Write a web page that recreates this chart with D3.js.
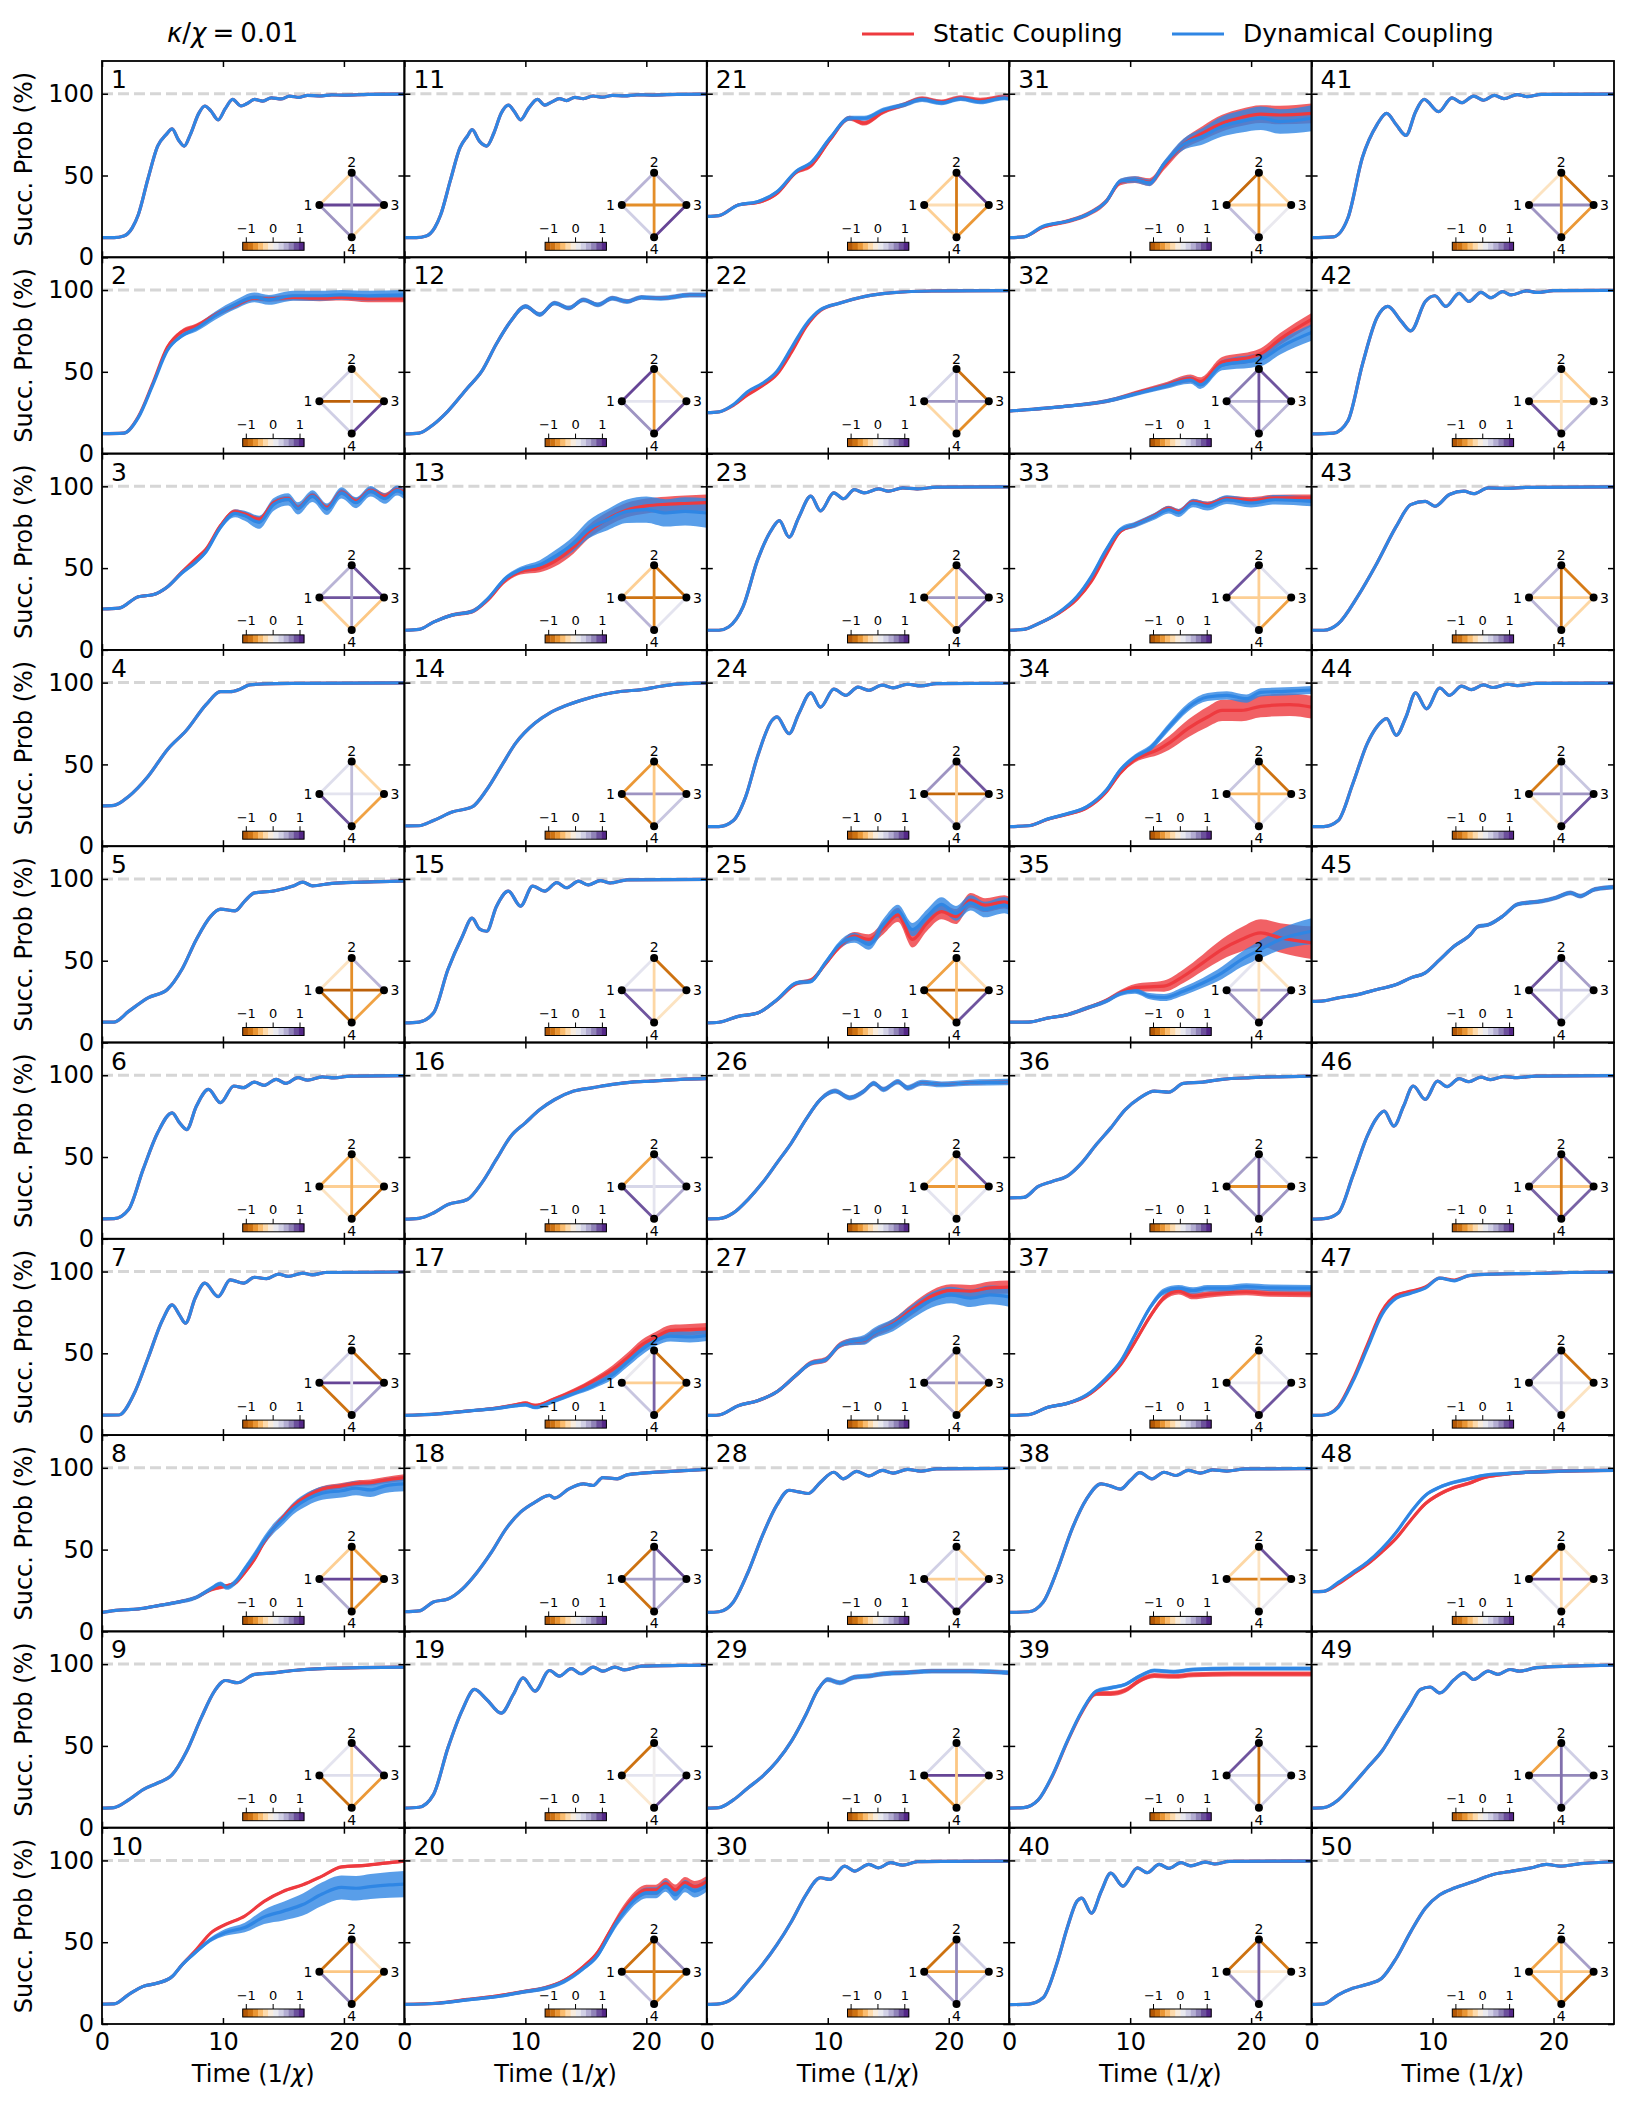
<!DOCTYPE html>
<html>
<head>
<meta charset="utf-8">
<script src="https://cdn.jsdelivr.net/npm/d3@7"></script>
<style>
  body { margin: 0; background: #fff; }
  svg { display: block; }
  text { font-family: "DejaVu Sans", sans-serif; fill: #000; }
</style>
</head>
<body>
<svg id="chart"></svg>
<script>
// panel numbers, laid out column by column (10 rows x 5 columns)
const panelLabels = [1,2,3,4,5,6,7,8,9,10,11,12,13,14,15,16,17,18,19,20,21,22,23,24,25,
  26,27,28,29,30,31,32,33,34,35,36,37,38,39,40,41,42,43,44,45,46,47,48,49,50];
const timeTicks = [0, 10, 20];
const probTicks = [0, 50, 100];
const cbarTicks = [-1, 0, 1];
const seriesNames = ['Static Coupling', 'Dynamical Coupling'];

// mean success probability (%) vs time (1/chi), dynamical coupling
const dynamical = [
  [[0,12],[1,12],[1.8,13],[2.5,18],[3,26],[3.8,48],[4.6,68],[5.3,75],[5.8,78.5],[6.3,72],[6.8,68],[7.3,75],[8,88],[8.5,92.5],[9,89.5],[9.6,84],[10.2,91],[10.8,96.5],[11.5,92.5],[12,94],[12.6,96.5],[13.3,95.5],[14,97.5],[14.8,96.8],[15.5,98.5],[16.3,97.8],[17,99],[18,98.6],[19,99.3],[20,99.1],[22,99.6],[25,99.8]],
  [[0,12.2],[1.8,12.5],[3,22],[4.2,42],[5.4,63],[6.6,72],[7.8,76.5],[9.4,84.5],[11,91],[12.6,95.5],[13.8,94],[15.8,96.5],[18,96.5],[19.8,97],[22,96.5],[25,97]],
  [[0,25],[1.4,25.5],[3,32.5],[4.2,33.7],[5.4,38.5],[6.6,47],[7.8,54],[8.6,60],[9.8,75],[11,83.5],[11.8,82],[13,78],[14.2,89],[15.4,92],[16.2,86.5],[17.4,94],[18.6,86],[19.8,96],[21,90],[22.2,97],[23.4,92.5],[24.4,97.5],[25,95]],
  [[0,24.7],[1,25],[2.2,30.4],[3.8,42.6],[5.4,59],[7,71],[8.6,86.5],[9.8,94.5],[10.6,94.5],[11.4,96],[12.2,98.6],[13.4,99.2],[15.8,99.5],[25,99.8]],
  [[0,12.4],[1,12.5],[2.2,19],[3.8,27.3],[5.4,32.4],[6.6,44.6],[7.8,63],[9,77.3],[9.8,81.5],[11,80.5],[11.8,86.4],[12.6,91.5],[14.2,92.6],[15.8,95.6],[16.6,98],[17.4,95.8],[19,97.3],[21.4,98],[24.6,98.7],[25,98.8]],
  [[0,12.2],[1,12.3],[2.2,17.9],[3.4,42.4],[4.6,64.8],[5.8,77],[6.4,71],[7,66.8],[7.8,81],[8.8,91.3],[9.8,83.2],[10.9,93.4],[11.7,92.4],[12.6,95.8],[13.4,93.8],[14.4,97.5],[15.2,95],[16.2,98.5],[17,97],[18.2,99],[19.2,98.4],[20.5,99.4],[25,99.7]],
  [[0,12.2],[1.4,12.3],[2.6,24.5],[3.8,47],[5,70.4],[5.8,79.6],[6.4,73.5],[6.9,68.4],[7.7,83.7],[8.5,92.9],[9.6,84.7],[10.6,94.9],[11.7,92.9],[12.6,96.5],[13.6,95.6],[14.6,98.4],[15.4,97],[16.6,99],[17.4,98],[18.5,99.4],[25,99.7]],
  [[0,11.6],[1.4,13],[3,13.7],[4.6,15.7],[6.2,17.8],[7.8,20.8],[9,26],[9.8,29],[10.3,27],[11,30],[11.8,38],[12.6,46.3],[13.4,55.5],[14.2,63],[15,68.8],[15.8,75],[17,81],[18.2,84.5],[19.8,86],[21,87.5],[22.2,86.5],[23.4,89],[25,90.2]],
  [[0,12],[1,12.3],[2.2,17],[3.4,23.3],[4.6,27.3],[5.8,32.4],[7,46.7],[8.2,67.1],[9.3,83.5],[10.2,90],[11.2,88.6],[12.6,93.7],[14.2,94.7],[15.8,96.1],[18.2,97.3],[21.4,97.8],[25,98.2]],
  [[0,12.2],[1,12.3],[2.2,18],[3.4,23],[4.6,25],[5.8,29],[6.6,36],[7.8,44.3],[9,51.6],[10.2,56],[11.8,59],[13.4,65.5],[15,69],[16.6,73],[18.2,79.5],[19.8,83.5],[21,83],[22.2,84],[23.8,85],[25,85.5]],
  [[0,12],[1,12],[1.8,13],[2.5,18],[3,26],[3.8,47],[4.6,67],[5.2,74],[5.6,78],[6.2,71],[6.8,68],[7.4,76],[8,88],[8.6,93],[9.1,89],[9.6,84],[10.3,91.5],[11,96.5],[11.6,93],[12.2,95],[12.8,97],[13.4,95.8],[14.1,97.8],[14.8,97],[15.6,98.6],[16.4,97.9],[17.2,99],[18.2,98.7],[19.2,99.3],[20.5,99.2],[22.5,99.6],[25,99.8]],
  [[0,12],[1.2,12.5],[2.4,17.8],[3.6,26],[5.2,40],[6.4,50.4],[7.6,67],[8.8,81],[10,90],[11.2,85],[12.4,92],[13.6,89],[14.8,94],[16,91],[17.2,95],[18.4,93],[19.6,95.5],[21.2,95],[23.6,97],[25,97]],
  [[0,12],[1.2,12.5],[2.4,17],[4,21.4],[5.6,23.5],[6.8,30.6],[8.4,44],[9.6,49],[11.2,52],[12.4,57],[14,65],[15.2,73.5],[16.8,79.6],[18.4,84.7],[20,85.7],[21.6,83.7],[23.2,84.7],[25,83.7]],
  [[0,12.4],[1.2,12.5],[2.4,15.7],[4,21],[5.6,24],[6.8,34.5],[8,48.8],[9.2,63],[10.8,75.3],[12,81.4],[13.2,85.5],[14.8,89.6],[16.4,92.7],[18,94.7],[19.6,95.7],[21.2,97.8],[22.8,99.2],[25,99.8]],
  [[0,12],[1.2,12.5],[2.4,18],[3.6,44.6],[4.8,65],[5.6,76],[6.2,69.5],[6.8,68],[7.6,83],[8.6,92.5],[9.6,83.4],[10.6,95.6],[11.6,92.5],[12.6,97.7],[13.4,94.6],[14.4,98.6],[15.2,96.3],[16.2,99],[17,97.5],[18.4,99.4],[25,99.7]],
  [[0,12],[1.2,12.5],[2.4,15.8],[3.6,21],[5.2,24],[6.4,34.2],[7.6,48.5],[8.8,62.7],[10,70.9],[11.2,79],[12.4,85],[14,90.3],[15.6,92.4],[17.2,94.4],[18.8,95.8],[20.4,96.4],[22.8,97.5],[25,97.9]],
  [[0,12],[2.8,13],[5.2,14.7],[7.6,16.3],[9.2,18],[10,18.6],[10.8,17],[12.4,21],[14,25.5],[15.6,30.2],[17.2,36.7],[18.4,44.5],[19.6,52],[20.8,57.8],[22,60.5],[23.6,60],[25,61]],
  [[0,12],[1.2,12.5],[2.4,18],[3.6,19.8],[4.8,26],[6,36],[7.2,48.4],[8.4,62.7],[9.6,72.9],[10.8,79],[12,83.1],[12.4,81.5],[13.6,87.1],[14.8,90.2],[15.6,89.2],[16.4,94],[17.6,93.3],[18.4,95.7],[19.6,96.7],[22,97.8],[25,99]],
  [[0,12],[1.2,12.5],[2.4,20.2],[3.6,48.8],[4.8,72.2],[5.8,84.5],[6.8,78.4],[8,70],[9,81.4],[9.8,91.6],[10.8,83.5],[12,96.1],[12.8,92.7],[13.8,97.3],[14.6,94.1],[15.6,98.2],[16.4,95.7],[17.4,98.2],[18.2,96.5],[19.6,98.8],[22.8,99.2],[25,99.4]],
  [[0,12],[2.8,12.7],[5.2,14.7],[7.6,16.7],[10,19.8],[11.6,21.8],[13.2,26],[14.8,34],[16,42.2],[16.8,52.4],[17.6,62.7],[18.4,70.8],[19.2,77],[20,80.2],[20.8,80.2],[21.6,84.3],[22.4,79],[23.2,84.3],[24,81.2],[25,85]],
  [[0,25],[1,25.5],[2.6,32],[4.2,34],[5.8,40],[7.4,52.6],[8.6,57.7],[10.2,73],[11.8,85],[13,85],[14.6,90],[16.2,93],[17.8,96.5],[19.4,94.5],[21,97],[22.6,95],[24.6,97.5],[25,97]],
  [[0,25],[1,25.5],[2.2,30],[3.4,38],[4.6,43],[5.8,50.4],[7,64.7],[8.2,79],[9.4,88],[11,92],[13,96],[15.4,98.4],[18.6,99.4],[25,99.6]],
  [[0,12],[1,12],[1.8,14],[3,26.5],[4.2,55],[5.4,74],[6,79],[6.8,69],[7.6,81],[8.6,94],[9.4,85],[10.5,96],[11.3,92.4],[12.2,98],[13,96],[14.2,98.4],[15,97],[16.2,99],[17.4,98.4],[19,99.5],[25,99.7]],
  [[0,12],[1,12],[2.2,15.7],[3.2,30],[4.2,55],[5.4,77],[5.8,79],[6.8,68.8],[7.6,81],[8.6,93.7],[9.4,85],[10.5,96],[11.5,92.2],[12.5,97.3],[13.4,95.3],[14.5,98.5],[15.4,96.8],[16.6,99],[17.7,98],[19,99.4],[25,99.6]],
  [[0,12],[1,12.4],[2.6,16],[4.2,18],[5.8,26.2],[7.4,36.4],[8.6,37.4],[9.8,48.7],[11,60],[12.2,64],[13.4,60],[14.6,72],[15.8,80.3],[17,69],[18.2,77],[19.4,84.4],[20.6,79],[21.8,85.4],[23,81.3],[24.6,84],[25,83]],
  [[0,12.2],[1,12.3],[2.2,15.8],[3.4,24],[4.6,34.2],[5.8,46.4],[7,58.7],[8.2,73],[9.4,85.2],[10.6,90.3],[11.8,86.2],[13,90.3],[13.8,95],[14.6,91.3],[15.8,96],[16.6,92.3],[17.8,95.4],[19.4,94.4],[21.8,95.4],[24.6,95.8],[25,96]],
  [[0,12],[1,12.3],[2.6,18],[4.2,21],[5.8,26.5],[7.4,36.7],[8.6,43.9],[9.8,45.9],[11,55],[11.8,57],[13,58.2],[13.8,62.2],[15.4,67.3],[17,75.5],[18.6,82.7],[20.2,85.7],[21.8,83.7],[23.4,85.7],[25,84.5]],
  [[0,11.6],[1,12],[2.2,18],[3.4,36],[4.6,58.6],[5.8,77.3],[6.8,86.3],[7.6,85.3],[8.4,84.3],[9.4,91.2],[10.5,97.3],[11.3,93.3],[12.4,97.8],[13.4,95],[14.5,98.4],[15.4,96.7],[16.6,99],[17.7,98],[19,99.4],[25,99.6]],
  [[0,12],[1,12.3],[2.2,17],[3.4,24.3],[4.6,31.4],[5.8,40.6],[7,52.9],[8.2,69.2],[9.2,84.5],[10,90.6],[11,88.6],[12.2,92],[13.4,92.7],[14.6,94.1],[16.2,94.7],[18.6,95.7],[21.8,95.7],[25,94.7]],
  [[0,12],[1,12.3],[2.2,16],[3.4,26],[4.6,36.3],[5.8,48.5],[7,62.7],[8.2,79],[9.4,89.4],[10.2,88.4],[11.4,96.5],[12.2,93.5],[13.4,97.6],[14.2,95.5],[15.2,98.6],[16.2,97.1],[17.4,99.2],[20.2,99.4],[25,99.6]],
  [[0,12],[1.2,12.5],[2.8,19],[4.8,22],[6.4,26],[8,34],[9.2,46.5],[10.4,47.5],[11.6,45.5],[12.8,57],[14.4,69],[16,74],[17.6,80],[19.2,83],[20.8,85],[22.4,83],[25,85]],
  [[0,26],[4.8,29],[8,32],[11.2,38],[12.8,41],[15,45],[15.8,42],[17.6,54],[20,56.5],[20.8,57.5],[22.4,65],[25,74]],
  [[0,12],[1.2,12.5],[2.4,16],[4,22.4],[5.6,32.6],[6.8,45],[8,61],[9.2,73.5],[10.4,76.5],[12,81.6],[13.2,85.7],[14,83.7],[15.2,89.8],[16.4,87.8],[18,91.8],[20,89.8],[22,91.8],[25,90.8]],
  [[0,12],[1.6,12.5],[3.2,16.7],[4.8,19.8],[6.4,24],[8,34],[9.2,46.7],[10.4,54.5],[11.6,59.6],[13.2,72.8],[14.8,85],[16.4,91.2],[18,92.2],[19.6,90.2],[20.8,94],[22.8,94.7],[25,95.5]],
  [[0,12.4],[1.6,12.5],[3.2,15],[4.8,17],[6.4,21],[8,25.2],[9.2,30],[10.4,31.5],[11.6,28.3],[12.8,27.5],[14.4,31.3],[16,36.4],[17.6,42.6],[19.2,50.7],[20.8,57],[22.4,63],[25,68]],
  [[0,25],[1.2,25.3],[2.4,32],[3.6,35.2],[4.8,38.3],[6,46.4],[7.2,57.6],[8.4,67.8],[9.6,79],[10.8,86.2],[12,90.3],[13.2,89.7],[14.4,95],[16,95.8],[17.6,97.5],[20,98.5],[25,99.5]],
  [[0,12],[1.6,12.5],[3.2,17],[4.8,19.4],[6.4,24.5],[8,34.7],[9.2,44.9],[10.4,61.2],[11.6,77.5],[12.8,87.8],[14,89.8],[15.2,88.4],[16.4,89.8],[18,89.8],[19.6,90.8],[21.6,90],[25,89.8]],
  [[0,11.6],[1.6,12],[2.8,17.8],[4,38],[5.2,62.7],[6.4,81],[7.6,90.2],[8.4,88.8],[9.2,87],[10,92.2],[10.8,97],[11.8,93.3],[12.8,97.3],[13.8,95.3],[14.8,98.4],[15.8,96.8],[16.8,98.8],[18,98],[19.5,99.3],[25,99.5]],
  [[0,12],[1.2,12.3],[2.4,17],[3.6,32.4],[4.8,52.9],[6,71.2],[7.2,83.5],[8.4,85.5],[9.6,87.6],[10.8,92.7],[12,96.1],[13.6,95.3],[15.2,96.7],[18.4,97.3],[21.6,97.3],[25,97.3]],
  [[0,11.8],[1.6,12.2],[2.8,16],[4,38.4],[4.8,58.8],[5.6,75],[6,77],[6.8,67.8],[7.6,81],[8.4,92.2],[9.4,84.3],[10.6,95.5],[11.4,92.5],[12.4,97.6],[13.2,95.1],[14.2,98.6],[15,96.7],[16.2,99],[17,97.8],[18.2,99.4],[25,99.6]],
  [[0,12],[1.8,12.5],[3,24],[4.2,61],[5.4,81],[6.2,88],[7,81],[7.8,74.5],[8.6,89],[9.3,96.5],[10.5,89],[11.6,97.5],[12.4,94.5],[13.4,98.5],[14.2,96],[15.1,99],[15.9,97],[17,99.5],[17.8,98.2],[19,99.6],[25,99.8]],
  [[0,12],[1.8,12.5],[3,20],[4.2,54.5],[5.4,83],[6.3,90],[7.4,81],[8.2,75],[9.4,93],[10.2,96.5],[11.1,90],[12.2,98],[13,93],[14,98.6],[14.8,95.3],[15.8,99],[16.5,97],[17.8,99.5],[18.6,98.5],[20,99.6],[25,99.8]],
  [[0,12],[1,12],[2.2,16],[3.8,32.6],[5.4,53],[7,75.5],[8.2,88.8],[9.4,90.8],[10.2,87.8],[11.4,95],[12.6,97],[13.4,95.5],[14.6,99],[16,98.8],[18,99.4],[25,99.6]],
  [[0,12],[1,12],[2.2,15.7],[3.4,38],[4.6,62.7],[5.4,73],[6.2,78],[7,67.8],[7.8,79],[8.6,93.7],[9.5,84],[10.6,96.7],[11.4,92.2],[12.4,97.8],[13.2,95.7],[14.2,98.6],[15,97],[16.2,99],[17,98.2],[18.5,99.5],[25,99.7]],
  [[0,25.2],[1,25.5],[2.2,27.3],[3.8,29.3],[5.4,32.4],[7,35.4],[8.2,39.5],[9.4,42.6],[10.6,50.7],[11.8,59],[13,65],[13.8,71],[14.6,72],[15.8,77.2],[17,84.4],[17.8,85.4],[19,86.4],[20.2,88.5],[21.4,91.5],[22.2,89.5],[23.4,93.6],[25,95]],
  [[0,12],[1,12.3],[2.2,15.8],[3.4,38.3],[4.6,62.8],[5.4,74],[6,78],[6.8,68.9],[7.6,81],[8.4,93.4],[9.4,85.2],[10.4,96.4],[11.2,93],[12.2,97.9],[13,96],[14,98.8],[14.8,97.3],[15.9,99.2],[17,98.5],[18.5,99.5],[25,99.7]],
  [[0,12],[1,12.3],[2.2,17],[3.4,32.7],[4.6,53],[5.8,73.5],[7,83.7],[8.2,86.7],[9.4,89.8],[10.6,95.9],[11.8,94.3],[13,97.5],[15,98.4],[18.2,98.8],[21.4,99.4],[25,99.6]],
  [[0,24.3],[1,24.5],[2.2,30],[3.4,36.1],[4.6,42.2],[5.8,50.4],[7,60.6],[8.2,72.9],[9.4,83.1],[10.6,88.2],[11.8,91.2],[13,93.3],[14.2,95.3],[15.8,96.3],[17.8,97.3],[19.8,97.8],[22.2,98.2],[25,98.4]],
  [[0,12],[1,12.3],[2.2,17],[3.4,26.3],[4.6,36.5],[5.8,46.7],[7,61],[8.2,75.3],[9,84.5],[9.8,86],[10.6,82.4],[11.8,90.6],[12.6,94.7],[13.4,90.6],[14.6,95.7],[15.4,93.7],[16.4,96.7],[17.2,95.7],[18.6,97.8],[21.4,98.8],[25,99.4]],
  [[0,12],[1,12.3],[2.2,17.8],[3.4,21.8],[4.6,24.3],[5.8,28],[7,40.2],[8.2,56.5],[9.4,70.8],[10.6,79],[11.8,83.1],[13.4,87.1],[15,91.4],[16.6,93.5],[18.2,95.5],[19.4,97.6],[20.6,96.5],[22.2,98],[25,99.2]]
];

// static coupling means; null where they coincide with the dynamical curve
const staticCoupling = [
  null,
  [[0,12.2],[1.8,12.5],[3,22.5],[4.2,43],[5.4,65],[6.6,74.5],[7.8,78],[9.4,85],[11,90.5],[12.6,95],[13.8,94.5],[15.8,95.5],[18,95],[19.8,95.5],[22,94.5],[25,94.5]],
  [[0,25],[1.4,25.5],[3,32.5],[4.2,33.7],[5.4,38.5],[6.6,47.5],[7.8,56],[8.6,61.5],[9.8,76],[11,84.5],[11.8,83],[13,80],[14.2,90],[15.4,92.5],[16.2,87],[17.4,94.5],[18.6,87],[19.8,96.5],[21,91],[22.2,97.5],[23.4,94],[24.4,98],[25,96.5]],
  null, null, null, null,
  [[0,11.6],[1.4,13],[3,13.7],[4.6,15.7],[6.2,17.8],[7.8,20.8],[9,25.5],[9.8,27],[11,29.5],[11.8,36],[12.6,44],[13.4,54.5],[14.2,63],[15,70],[15.8,76.5],[17,83],[18.2,87],[19.8,89],[21,90.5],[22.2,91],[23.4,92.5],[25,94]],
  null,
  [[0,12.2],[1,12.3],[2.2,18],[3.4,23],[4.6,25],[5.8,29],[6.6,36],[7.8,45.5],[9,55.7],[10.2,60.8],[11.8,66],[13.4,75],[15,81.2],[16.6,85.1],[18.2,90.4],[19.8,96],[21.8,97],[23.4,98.3],[25,99.6]],
  null, null,
  [[0,12],[1.2,12.5],[2.4,17],[4,21.4],[5.6,23.5],[6.8,30],[8.4,43],[9.6,48],[11.2,50],[12.4,54],[14,63],[15.2,72],[16.8,80],[18.4,85.5],[20,88],[21.6,89],[23.2,89.5],[25,90]],
  null, null, null,
  [[0,12],[2.8,13],[5.2,14.7],[7.6,16.5],[9.2,18.5],[10,19.5],[10.8,18],[12.4,22],[14,27],[15.6,33],[17.2,40],[18.4,47],[19.6,55],[20.8,60],[22,64],[23.6,64.5],[25,65]],
  null, null,
  [[0,12],[2.8,12.8],[5.2,15],[7.6,17],[10,20],[11.6,22],[13.2,26.5],[14.8,35],[16,44],[16.8,54],[17.6,64],[18.4,72.5],[19.2,79],[20,82],[20.8,82],[21.6,86],[22.4,82],[23.2,86.5],[24,84],[25,87]],
  [[0,25],[1,25.5],[2.6,32],[4.2,33.5],[5.8,39],[7.4,52],[8.6,56],[10.2,72],[11.8,85],[13,82],[14.6,89],[16.2,93],[17.8,97],[19.4,95],[21,97.5],[22.6,96],[24.6,98],[25,97.5]],
  [[0,25],[1,25.5],[2.2,29.5],[3.4,36],[4.6,41.5],[5.8,48.5],[7,62],[8.2,77.5],[9.4,87.5],[11,92],[13,96],[15.4,98.4],[18.6,99.4],[25,99.6]],
  null, null,
  [[0,12],[1,12.4],[2.6,16],[4.2,18],[5.8,26],[7.4,36],[8.6,38],[9.8,48],[11,59],[12.2,65],[13.4,63],[14.6,70],[15.8,78],[17,63],[18.2,73],[19.4,80],[20.6,77],[21.8,87],[23,84],[24.6,86],[25,85]],
  null,
  [[0,12],[1,12.3],[2.6,18],[4.2,21],[5.8,26.5],[7.4,36.7],[8.6,44],[9.8,46],[11,55],[11.8,57],[13,58],[13.8,62],[15.4,68],[17,77],[18.6,85],[20.2,88.5],[21.8,88],[23.4,90],[25,90.5]],
  null, null, null,
  [[0,12],[1.2,12.5],[2.8,18.5],[4.8,22],[6.4,26],[8,34],[9.2,46],[10.4,47.5],[11.6,46],[12.8,56],[14.4,69],[16,76],[17.6,82],[19.2,85.5],[20.8,87.5],[22.4,87],[25,88]],
  [[0,26],[4.8,29],[8,32],[11.2,38.5],[12.8,41.5],[15,46],[15.8,44],[17.6,56],[20,59],[20.8,61],[22.4,70],[25,82]],
  [[0,12],[1.2,12.5],[2.4,16],[4,22],[5.6,31],[6.8,42],[8,58],[9.2,72.5],[10.4,76.5],[12,82],[13.2,86.5],[14,84.5],[15.2,90.5],[16.4,89],[18,92.5],[20,91.5],[22,93],[25,93]],
  [[0,12],[1.6,12.5],[3.2,16.5],[4.8,19.5],[6.4,23.5],[8,33],[9.2,45],[10.4,53],[11.6,57],[12,58],[13.2,63],[14.8,72],[16.4,79],[17.6,83],[19.2,83],[20.8,85.5],[23.2,86.5],[25,85]],
  [[0,12.4],[1.6,12.5],[3.2,15],[4.8,17],[6.4,21],[8,25.5],[9.2,30.5],[10.4,33.6],[11.6,34],[12.8,34.5],[14.4,40.5],[16,48.7],[17.6,57],[19.2,63],[20.8,67],[22.4,64],[25,61]],
  null,
  [[0,12],[1.6,12.5],[3.2,17],[4.8,19.4],[6.4,24],[8,33.5],[9.2,43],[10.4,57],[11.6,72],[12.8,84],[14,88],[15.2,85],[16.4,86],[18,87],[19.6,87.5],[21.6,86.5],[25,86.3]],
  null,
  [[0,12],[1.2,12.3],[2.4,17],[3.6,32],[4.8,52.5],[6,70.5],[7.2,82],[8.4,82],[9.6,84],[10.8,90],[12,93],[13.6,92.5],[15.2,93.5],[18.4,94],[21.6,94],[25,94]],
  null, null, null, null, null, null, null,
  [[0,12],[1,12.3],[2.2,17.5],[3.4,34],[4.6,55],[5.8,75.5],[7,85.5],[8.2,88],[9.4,90.5],[10.6,96],[11.8,94.8],[13,97.5],[15,98.4],[18.2,98.8],[21.4,99.4],[25,99.6]],
  [[0,24.3],[1,24.5],[2.2,29],[3.4,35],[4.6,41],[5.8,48.5],[7,57],[8.2,68],[9.4,78],[10.6,84],[11.8,88],[13,90.5],[14.2,94],[15.8,96],[17.8,97.3],[19.8,97.8],[22.2,98.2],[25,98.4]],
  null, null
];

// half-width of the shaded spread, [time, percent]; null = thin spread
const thinSpread = [[0, 0.6], [25, 0.8]];
const dynamicalSpread = [
  null, [[0,0.6],[6,1],[9,2.5],[13,3],[25,3]], [[0,0.6],[10,1.5],[13,4],[25,3]], null, null,
  null, null, [[0,0.6],[10,1.5],[14,3],[17,4],[25,4.5]], null, [[0,0.6],[9,1.5],[12,3],[14,5],[17,7],[25,8]],
  null, [[0,0.6],[9,1.5],[25,1.5]], [[0,0.6],[9,1.5],[13,4],[16,6],[20,8],[25,9]], null, null,
  null, [[0,0.6],[15,1.5],[18,3],[25,3.5]], null, null, [[0,0.6],[16,1.5],[18,3],[25,4]],
  [[0,0.6],[10,1.5],[25,1.5]], null, null, null, [[0,0.6],[10,1.5],[12,3],[16,4],[25,5]],
  [[0,0.6],[9,1.5],[25,2]], [[0,0.6],[11,1.5],[13,3],[16,4],[20,5],[25,6]], null, [[0,0.6],[9,1.5],[25,1.5]], null,
  [[0,0.6],[8,1],[10,2],[13,2],[15,4],[17,6],[20,7],[25,8]], [[0,0.6],[12,1.5],[16,2.5],[20,4],[25,5]], [[0,0.6],[9,1.5],[14,2.5],[25,3]], [[0,0.6],[9,1.5],[14,2.5],[25,2.5]], [[0,0.6],[9,1.5],[12,2],[16,3],[20,5],[25,8]],
  null, [[0,0.6],[10,1.5],[13,2],[25,2]], null, [[0,0.6],[7,1.2],[25,1.2]], null,
  null, null, null, null, [[0,0.6],[12,1.2],[25,1.5]],
  null, null, [[0,0.6],[8,1.2],[25,1]], null, null
];
const staticSpread = [
  null, [[0,0.6],[8,1.5],[25,2]], [[0,0.6],[10,1.5],[25,2]], null, null,
  null, null, [[0,0.6],[15,1.5],[25,2]], null, [[0,0.6],[25,1]],
  null, null, [[0,0.6],[10,2],[14,4],[25,5]], null, null,
  null, [[0,0.6],[15,1.5],[18,3],[25,3.5]], null, null, [[0,0.6],[16,1.5],[18,3],[25,3.5]],
  [[0,0.6],[10,1.5],[25,1.5]], null, null, null, [[0,0.6],[10,1.5],[13,3],[17,5],[25,4]],
  null, [[0,0.6],[12,2],[17,3.5],[25,4]], null, null, null,
  [[0,0.6],[10,2],[14,3],[17,5],[25,6]], [[0,0.6],[12,1.5],[17,3],[25,4]], [[0,0.6],[12,1.5],[25,2]], [[0,0.6],[10,1.5],[12,3],[14,5],[17,6.5],[25,7]], [[0,0.6],[9,1.5],[12,3],[16,5],[20,8],[25,10]],
  null, [[0,0.6],[10,1.5],[14,2],[25,2]], null, [[0,0.6],[7,1.5],[25,1.5]], null,
  null, null, null, null, null,
  null, null, [[0,0.6],[8,1.2],[25,1]], null, null
];

// coupling weights per panel: [1-2, 2-3, 3-4, 4-1, 1-3, 2-4]
const edgeWeights = [
  [-0.3,0.6,-0.3,0.6,0.9,0.6], [0.3,-0.3,0.9,0.3,-0.95,0.1], [0.45,0.85,-0.4,-0.35,0.85,0.55],
  [0.2,-0.3,-0.6,0.85,0.15,0.4], [-0.2,0.45,-0.6,-0.85,-0.95,-0.7], [-0.55,-0.2,-0.85,-0.2,-0.35,-0.55],
  [0.3,-0.85,0.55,-0.85,0.9,0.15], [-0.35,-0.6,-0.65,0.5,0.9,-0.85], [0.15,0.85,-0.65,-0.85,0.2,-0.3],
  [-0.85,-0.2,-0.75,0.65,-0.4,0.8], [0.45,0.45,0.9,0.3,-0.7,-0.7], [0.9,-0.3,0.85,0.6,0.15,-0.65],
  [-0.35,-0.85,0.15,0.45,-0.85,-0.75], [-0.65,-0.65,0.35,-0.85,0.6,-0.4], [0.15,-0.85,-0.2,0.85,0.45,-0.3],
  [-0.6,0.6,0.5,0.85,0.25,0.15], [0.1,-0.85,-0.65,0.35,-0.35,0.8], [-0.85,0.85,0.5,-0.85,0.55,0.6],
  [-0.85,0.3,0.85,-0.15,0.15,0.05], [-0.85,0.6,-0.65,0.4,-0.85,-0.75], [-0.35,0.9,-0.65,-0.35,-0.25,-0.8],
  [0.25,-0.85,-0.7,-0.3,0.6,0.4], [-0.5,0.85,0.85,-0.45,0.6,-0.35], [0.6,0.85,0.35,0.4,-0.9,-0.35],
  [-0.6,-0.25,0.85,-0.85,-0.95,-0.45], [-0.3,0.85,0.15,0.15,-0.65,-0.3], [0.55,0.45,-0.8,0.45,0.6,-0.3],
  [0.3,-0.35,0.85,0.85,-0.35,0.1], [0.25,0.25,-0.2,-0.65,0.9,-0.4], [-0.85,0.3,0.3,0.55,-0.6,0.65],
  [-0.9,-0.3,0.1,0.4,-0.35,-0.7], [0.7,0.85,0.45,0.45,0.45,0.85], [0.85,0.2,-0.6,0.25,-0.35,-0.35],
  [0.35,-0.85,0.15,0.35,-0.5,-0.45], [0.15,-0.2,0.8,0.6,0.5,-0.2], [0.55,0.25,0.6,0.6,-0.7,0.8],
  [-0.6,0.15,0.85,0.8,0.1,-0.25], [-0.3,0.85,0.1,0.1,-0.8,-0.2], [0.85,0.25,0.3,0.3,0.25,-0.85],
  [-0.85,-0.8,0.1,0.6,-0.15,0.8], [-0.2,-0.85,-0.65,0.6,0.65,-0.65], [0.15,-0.35,0.4,0.85,-0.35,-0.2],
  [0.45,-0.8,-0.3,0.45,-0.35,-0.85], [-0.8,0.35,0.85,-0.2,0.6,0.35], [0.85,0.55,0.15,0.85,0.3,0.3],
  [0.6,0.8,0.8,0.8,-0.4,-0.85], [0.6,-0.85,-0.2,0.45,0.1,0.3], [-0.8,-0.15,-0.25,0.15,0.9,-0.3],
  [-0.6,0.3,0.4,0.3,0.65,0.75], [-0.6,0.55,-0.85,-0.6,-0.4,-0.4]
];
const edgePairs = [[1,2],[2,3],[3,4],[4,1],[1,3],[2,4]];

const chartW = 1634, chartH = 2107;
const gridLeft = 102, gridTop = 61;
const panelW = 302.4, panelH = 196.3;
const redColor = '#ee3a3f', blueColor = '#2f86e4';

const svg = d3.select('#chart').attr('width', chartW).attr('height', chartH);

// orange (-1) .. white .. purple (+1)
const puor = d3.interpolateRgbBasis(['#b35806', '#e08214', '#fdb863', '#fee0b6', '#f7f7f7', '#d8daeb', '#b2abd2', '#8073ac', '#542788']);
const weightColor = d3.scaleLinear().domain([-1, 1]).range([0, 1]).clamp(true);

const defs = svg.append('defs');

panelLabels.forEach((label, i) => {
  const col = Math.floor(i / 10), row = i % 10;
  const x0 = gridLeft + col * panelW, y0 = gridTop + row * panelH;
  const x = d3.scaleLinear().domain([0, 25]).range([x0, x0 + panelW]);
  const y = d3.scaleLinear().domain([0, 120]).range([y0 + panelH, y0]);

  defs.append('clipPath').attr('id', 'clip' + i)
    .append('rect').attr('x', x0).attr('y', y0).attr('width', panelW).attr('height', panelH);

  const g = svg.append('g');
  const plot = g.append('g').attr('clip-path', `url(#clip${i})`);

  plot.append('line')
    .attr('x1', x0).attr('x2', x0 + panelW)
    .attr('y1', y(100)).attr('y2', y(100))
    .attr('stroke', '#d6d6d6').attr('stroke-width', 3)
    .attr('stroke-dasharray', '11,5');

  const dyn = dynamical[i];
  const sta = staticCoupling[i] || dynamical[i];
  const sdScale = s => {
    const sp = s || thinSpread;
    return d3.scaleLinear().domain(sp.map(d => d[0])).range(sp.map(d => d[1])).clamp(true);
  };
  const sdDyn = sdScale(dynamicalSpread[i]);
  const sdSta = sdScale(staticSpread[i]);

  const band = sd => d3.area()
    .x(d => x(d[0]))
    .y0(d => y(d[1] - sd(d[0])))
    .y1(d => y(d[1] + sd(d[0])))
    .curve(d3.curveMonotoneX);
  const line = d3.line().x(d => x(d[0])).y(d => y(d[1])).curve(d3.curveMonotoneX);

  plot.append('path').attr('d', band(sdSta)(sta)).attr('fill', redColor).attr('fill-opacity', 0.8);
  plot.append('path').attr('d', band(sdDyn)(dyn)).attr('fill', blueColor).attr('fill-opacity', 0.8);
  plot.append('path').attr('d', line(sta)).attr('fill', 'none').attr('stroke', redColor).attr('stroke-width', 3.2);
  plot.append('path').attr('d', line(dyn)).attr('fill', 'none').attr('stroke', blueColor).attr('stroke-width', 3.2);

  // inset: coupling graph
  const cx = x0 + 249.7, cy = y0 + 144, r = 32.3;
  const nodes = { 1: [cx - r, cy], 2: [cx, cy - r], 3: [cx + r, cy], 4: [cx, cy + r] };
  const inset = g.append('g');
  inset.selectAll('line.edge').data(edgePairs.map((p, k) => ({ p, w: edgeWeights[i][k] })))
    .enter().append('line')
    .attr('x1', d => nodes[d.p[0]][0]).attr('y1', d => nodes[d.p[0]][1])
    .attr('x2', d => nodes[d.p[1]][0]).attr('y2', d => nodes[d.p[1]][1])
    .attr('stroke', d => puor(weightColor(d.w)))
    .attr('stroke-width', 2.8);
  inset.selectAll('circle').data([1, 2, 3, 4]).enter().append('circle')
    .attr('cx', d => nodes[d][0]).attr('cy', d => nodes[d][1]).attr('r', 4).attr('fill', '#000');
  const nl = inset.append('g').attr('font-size', 14);
  nl.append('text').attr('x', cx).attr('y', cy - r - 5.5).attr('text-anchor', 'middle').text('2');
  nl.append('text').attr('x', cx).attr('y', cy + r + 17).attr('text-anchor', 'middle').text('4');
  nl.append('text').attr('x', cx - r - 7).attr('y', cy + 5).attr('text-anchor', 'end').text('1');
  nl.append('text').attr('x', cx + r + 6.5).attr('y', cy + 5).attr('text-anchor', 'start').text('3');

  // inset: colorbar
  const cb = d3.scaleLinear().domain([-1, 1]).range([x0 + 144.3, x0 + 198]);
  const cbTop = y0 + 181.3, cbH = 8;
  const nBins = 12, lo = cb.invert(x0 + 140.7), hi = cb.invert(x0 + 202);
  const bins = d3.range(nBins).map(k => lo + (hi - lo) * (k + 0.5) / nBins);
  const binW = (cb(hi) - cb(lo)) / nBins;
  inset.selectAll('rect.cb').data(bins).enter().append('rect')
    .attr('x', (d, k) => cb(lo) + k * binW).attr('y', cbTop)
    .attr('width', binW + 0.3).attr('height', cbH)
    .attr('fill', d => puor(weightColor(d)));
  inset.append('rect').attr('x', cb(lo)).attr('y', cbTop).attr('width', cb(hi) - cb(lo)).attr('height', cbH)
    .attr('fill', 'none').attr('stroke', '#000').attr('stroke-width', 1);
  cbarTicks.forEach(t => {
    inset.append('line').attr('x1', cb(t)).attr('x2', cb(t)).attr('y1', cbTop).attr('y2', cbTop - 5)
      .attr('stroke', '#000').attr('stroke-width', 1);
    inset.append('text').attr('x', cb(t)).attr('y', cbTop - 9.5).attr('text-anchor', 'middle')
      .attr('font-size', 13).text(t < 0 ? '\u2212' + Math.abs(t) : String(t));
  });

  // panel number
  g.append('text').attr('x', x0 + 9).attr('y', y0 + 27).attr('font-size', 25).text(label);

  // axes with inward ticks
  const tickStyle = sel => {
    sel.select('.domain').remove();
    sel.selectAll('.tick line').attr('stroke', '#000').attr('stroke-width', 1.5);
    sel.attr('font-family', null).attr('font-size', 24);
  };
  g.append('g').attr('transform', `translate(0,${y0 + panelH})`)
    .call(d3.axisBottom(x).tickValues(timeTicks).tickSize(-6).tickPadding(9)
      .tickFormat(row === 9 ? d3.format('d') : () => ''))
    .call(tickStyle);
  g.append('g').attr('transform', `translate(0,${y0})`)
    .call(d3.axisTop(x).tickValues(timeTicks).tickSize(-6).tickFormat(() => ''))
    .call(tickStyle);
  g.append('g').attr('transform', `translate(${x0},0)`)
    .call(d3.axisLeft(y).tickValues(probTicks).tickSize(-6).tickPadding(8)
      .tickFormat(col === 0 ? d3.format('d') : () => ''))
    .call(tickStyle);
  g.append('g').attr('transform', `translate(${x0 + panelW},0)`)
    .call(d3.axisRight(y).tickValues(probTicks).tickSize(-6).tickFormat(() => ''))
    .call(tickStyle);

  g.append('rect').attr('x', x0).attr('y', y0).attr('width', panelW).attr('height', panelH)
    .attr('fill', 'none').attr('stroke', '#000').attr('stroke-width', 1.8);

  if (col === 0) {
    svg.append('text')
      .attr('transform', `translate(32,${y0 + panelH / 2}) rotate(-90)`)
      .attr('text-anchor', 'middle').attr('font-size', 24)
      .text('Succ. Prob (%)');
  }
  if (row === 9) {
    const t = svg.append('text').attr('x', x0 + panelW / 2).attr('y', 2082)
      .attr('text-anchor', 'middle').attr('font-size', 24);
    t.append('tspan').text('Time (1/');
    t.append('tspan').attr('font-style', 'italic').text('\u03c7');
    t.append('tspan').text(')');
  }
});

// title
const title = svg.append('text').attr('x', 167).attr('y', 42).attr('font-size', 26);
title.append('tspan').attr('font-style', 'italic').text('\u03ba');
title.append('tspan').text('/');
title.append('tspan').attr('font-style', 'italic').text('\u03c7');
title.append('tspan').attr('dx', 6).text('=');
title.append('tspan').attr('dx', 6).text('0.01');

// legend
const legend = svg.append('g');
const legendItems = [
  { name: seriesNames[0], color: redColor, x: 862 },
  { name: seriesNames[1], color: blueColor, x: 1172 }
];
legendItems.forEach(d => {
  legend.append('line').attr('x1', d.x).attr('x2', d.x + 52).attr('y1', 34).attr('y2', 34)
    .attr('stroke', d.color).attr('stroke-width', 3);
  legend.append('text').attr('x', d.x + 71).attr('y', 42).attr('font-size', 25).text(d.name);
});
</script>
</body>
</html>
